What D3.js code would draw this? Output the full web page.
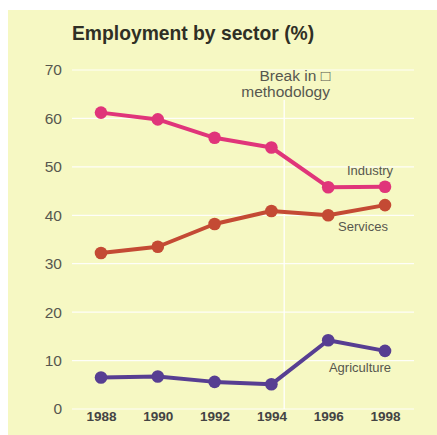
<!DOCTYPE html>
<html><head><meta charset="utf-8">
<script src="https://cdn.jsdelivr.net/npm/d3@7"></script>
<style>html,body{margin:0;padding:0;background:#fff;}svg{display:block;}</style>
</head><body>
<script>
const years = [1988, 1990, 1992, 1994, 1996, 1998];
const industry = [61.2, 59.8, 56.0, 54.0, 45.8, 45.9];
const services = [32.2, 33.5, 38.2, 40.9, 40.0, 42.1];
const agriculture = [6.5, 6.7, 5.6, 5.1, 14.2, 12.0];
const yTicks = [0, 10, 20, 30, 40, 50, 60, 70];
const breakYear = 1994.45;

const W = 437, H = 435;
const svg = d3.select("body").append("svg").attr("width", W).attr("height", H);
svg.append("rect").attr("x", 8).attr("y", 10).attr("width", W - 8).attr("height", H - 10).attr("fill", "#f6f8c3");

const x = d3.scaleLinear().domain([1988, 1998]).range([101, 385]);
const y = d3.scaleLinear().domain([0, 70]).range([409, 70]);

// gridlines
const grid = svg.append("g");
grid.selectAll("line").data(yTicks).join("line")
  .attr("x1", 72).attr("x2", 414)
  .attr("y1", d => y(d)).attr("y2", d => y(d))
  .attr("stroke", "#ffffff").attr("stroke-width", 1.2).attr("opacity", 0.9);

// y axis labels
const yAxis = d3.axisLeft(y).tickValues(yTicks).tickSize(0).tickPadding(0).tickFormat(d3.format("d"));
const ya = svg.append("g").attr("transform", "translate(62,0)").call(yAxis);
ya.select(".domain").remove();
ya.selectAll("text").attr("font-family", "Liberation Sans, Arial, sans-serif").attr("font-size", 15.5).attr("fill", "#57574f");

// x axis labels
const xAxis = d3.axisBottom(x).tickValues(years).tickSize(0).tickPadding(0).tickFormat(d3.format("d"));
const xa = svg.append("g").attr("transform", "translate(0,411)").call(xAxis);
xa.select(".domain").remove();
xa.selectAll("text").attr("font-family", "Liberation Sans, Arial, sans-serif").attr("font-size", 13.5).attr("font-weight", "bold").attr("fill", "#444");

// break line
svg.append("line").attr("x1", x(breakYear)).attr("x2", x(breakYear)).attr("y1", 100).attr("y2", y(0))
  .attr("stroke", "#ffffff").attr("stroke-width", 1.3);
const bt = svg.append("text").attr("text-anchor", "end").attr("font-family", "Liberation Sans, Arial, sans-serif")
  .attr("font-size", 15.5).attr("fill", "#57574f");
bt.append("tspan").attr("x", 330).attr("y", 81).text("Break in \u25A1");
bt.append("tspan").attr("x", 330).attr("y", 97).text("methodology");

// title
svg.append("text").attr("x", 72).attr("y", 40).attr("font-family", "Liberation Sans, Arial, sans-serif")
  .attr("font-size", 19.3).attr("font-weight", "bold").attr("fill", "#2f2f25").text("Employment by sector (%)");

const series = [
  {name: "Industry", values: industry, color: "#e0357a", lx: 370, ly: 175},
  {name: "Services", values: services, color: "#c44a34", lx: 363, ly: 231},
  {name: "Agriculture", values: agriculture, color: "#573e92", lx: 360, ly: 372}
];
const line = d3.line().x((d, i) => x(years[i])).y(d => y(d));
series.forEach(s => {
  svg.append("path").datum(s.values).attr("d", line).attr("fill", "none")
    .attr("stroke", s.color).attr("stroke-width", 4).attr("stroke-linejoin", "round");
  svg.append("g").selectAll("circle").data(s.values).join("circle")
    .attr("cx", (d, i) => x(years[i])).attr("cy", d => y(d)).attr("r", 6.3).attr("fill", s.color);
  svg.append("text").attr("x", s.lx).attr("y", s.ly).attr("text-anchor", "middle")
    .attr("font-family", "Liberation Sans, Arial, sans-serif").attr("font-size", 13).attr("fill", "#57574f").text(s.name);
});
</script>
</body></html>
